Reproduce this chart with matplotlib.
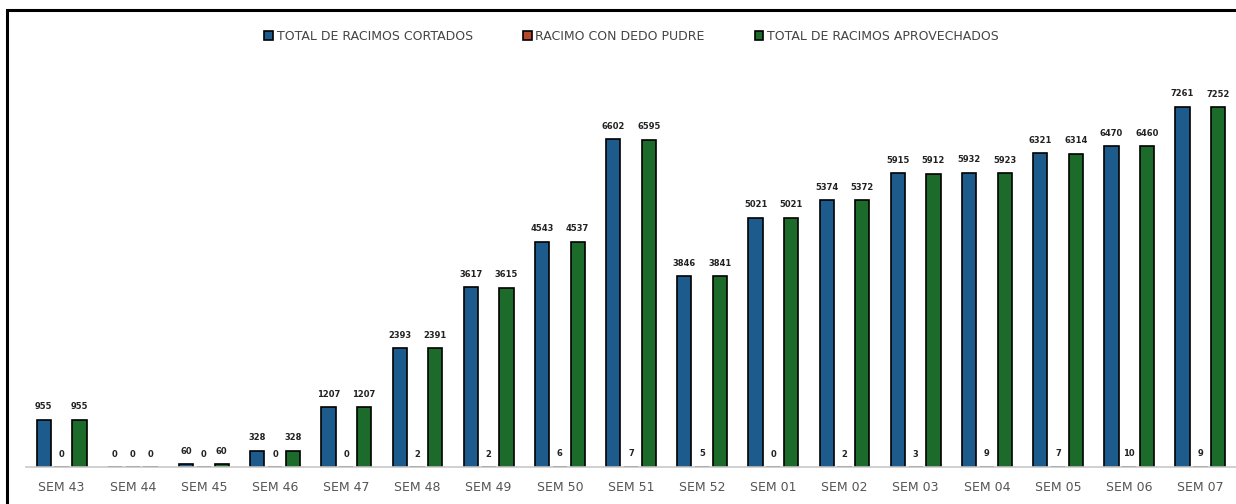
import matplotlib.pyplot as plt
import numpy as np
from matplotlib.patches import Rectangle

semanas = ["SEM 43", "SEM 44", "SEM 45", "SEM 46", "SEM 47", "SEM 48", "SEM 49", "SEM 50", "SEM 51",
           "SEM 52", "SEM 01", "SEM 02", "SEM 03", "SEM 04", "SEM 05", "SEM 06", "SEM 07"]
cortados = [955, 0, 60, 328, 1207, 2393, 3617, 4543, 6602, 3846, 5021, 5374, 5915, 5932, 6321, 6470, 7261]
pudre = [0, 0, 0, 0, 0, 2, 2, 6, 7, 5, 0, 2, 3, 9, 7, 10, 9]
aprovechados = [955, 0, 60, 328, 1207, 2391, 3615, 4537, 6595, 3841, 5021, 5372, 5912, 5923, 6314, 6460, 7252]

c_blue = "#1d5b8c"
c_red = "#b5472a"
c_green = "#1c6b2a"

fig = plt.figure(figsize=(12.36, 5.04), dpi=100)
ax = fig.add_axes([26 / 1236, 37 / 504, 1210 / 1236, 407 / 504])

x = np.arange(len(semanas))
w = 0.2
series = [
    (cortados, -0.25, c_blue, "TOTAL DE RACIMOS CORTADOS"),
    (pudre, 0.0, c_red, "RACIMO CON DEDO PUDRE"),
    (aprovechados, 0.25, c_green, "TOTAL DE RACIMOS APROVECHADOS"),
]
for vals, off, col, lab in series:
    bars = ax.bar(x + off, vals, width=w, color=col, edgecolor="black", linewidth=1.2, label=lab)
    ax.bar_label(bars, labels=[str(v) for v in vals], padding=6, fontsize=6,
                 fontweight="bold", color="#222222")

ax.set_xlim(-0.5, len(semanas) - 0.5)
ax.set_ylim(0, 8200)
ax.set_xticks(x)
ax.set_xticklabels(semanas, fontsize=9, color="#555555")
ax.tick_params(axis="x", length=0, pad=10)
ax.set_yticks([])
for s in ["top", "right", "left"]:
    ax.spines[s].set_visible(False)
ax.spines["bottom"].set_color("#c8c8c8")
ax.spines["bottom"].set_linewidth(1.2)

handles, labels = ax.get_legend_handles_labels()
leg = fig.legend(handles, labels, loc="center", bbox_to_anchor=(0.511, 1 - 36 / 504), ncol=3,
                 frameon=False, fontsize=9, handlelength=0.7, handleheight=0.7,
                 handletextpad=0.3, columnspacing=4.0)
for t in leg.get_texts():
    t.set_color("#444444")

# outer frame
fig.patches.append(Rectangle((7 / 1236, -0.02), 1.05, 1 - 10 / 504 + 0.02, transform=fig.transFigure,
                             fill=False, edgecolor="black", linewidth=2.2, clip_on=False))

fig.savefig("out.png", dpi=100)
